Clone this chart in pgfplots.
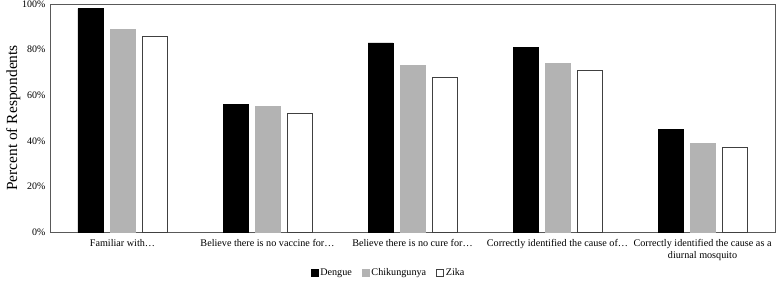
\documentclass[border=0pt]{standalone}
\usepackage{fontspec}
\setmainfont{Liberation Serif}
\usepackage{pgfplots}
\pgfplotsset{compat=1.18}
\definecolor{chik}{RGB}{179,179,179}
\begin{document}
\begin{tikzpicture}
\begin{axis}[
  name=main,
  scale only axis,
  width=725bp, height=228bp,
  ybar=7bp, bar width=25bp,
  xmin=-0.5, xmax=4.5,
  ymin=0, ymax=100,
  xtick={0,1,2,3,4},
  xticklabels={Familiar with\ldots, Believe there is no vaccine for\ldots, Believe there is no cure for\ldots, Correctly identified the cause of\ldots, {Correctly identified the cause as a\\diurnal mosquito}},
  xticklabel style={align=center, font=\fontsize{10.2}{12}\selectfont, yshift=0bp},
  xtick style={draw=none},
  ytick={0,20,40,60,80,100},
  yticklabel={\pgfmathprintnumber{\tick}\%},
  yticklabel style={font=\fontsize{10}{12}\selectfont, xshift=-1bp},
  ytick style={draw=none},
  /pgf/number format/assume math mode=true,
  ylabel={Percent of Respondents},
  ylabel style={font=\fontsize{15.5}{17}\selectfont, yshift=-5bp},
  axis line style={draw=black!65, line width=0.8pt},
  legend style={draw=none, at={(0.467,-0.18)}, anchor=center, font=\fontsize{10.2}{12}\selectfont, legend columns=-1, /tikz/every even column/.append style={column sep=8bp}},
  legend image code/.code={\draw[#1, line width=0.6pt] (0bp,-3.5bp) rectangle (7bp,3.5bp);},
  clip=false,
]
\addplot[fill=black, draw=black] coordinates {(0,98) (1,56) (2,83) (3,81) (4,45)};
\addplot[fill=chik, draw=chik] coordinates {(0,89) (1,55) (2,73) (3,74) (4,39)};
\addplot[fill=white, draw=black!75, line width=0.8pt] coordinates {(0,86) (1,52) (2,68) (3,71) (4,37)};
\legend{Dengue, Chikungunya, Zika}
\end{axis}
\pgfresetboundingbox
\path[use as bounding box] (-50bp,-51bp) rectangle (728bp,232bp);
\end{tikzpicture}
\end{document}
